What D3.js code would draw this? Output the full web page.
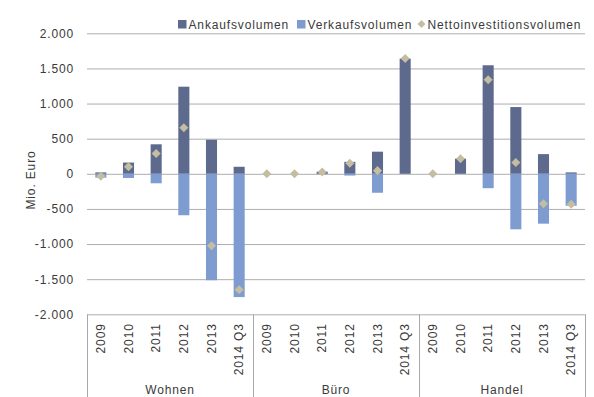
<!DOCTYPE html>
<html>
<head>
<meta charset="utf-8">
<script src="https://cdn.jsdelivr.net/npm/d3@7"></script>
<style>
  html, body { margin: 0; padding: 0; background: #fff; }
  svg { display: block; font-family: "Liberation Sans", Arial, sans-serif; }
  .lbl { fill: #3a3a3a; font-size: 12px; letter-spacing: 0.85px; }
</style>
</head>
<body>
<svg id="chart" width="594" height="397"></svg>
<script>
// Transaction volumes per segment and year (Mio. Euro)
const groups = ["Wohnen", "Büro", "Handel"];
const periods = ["2009", "2010", "2011", "2012", "2013", "2014 Q3"];

const ankauf = [
  20, 160, 420, 1240, 485, 100,     // Wohnen
  0, 0, 30, 170, 315, 1640,         // Büro
  0, 215, 1545, 950, 280, 20        // Handel
];
const verkauf = [
  -55, -60, -135, -590, -1515, -1755,
  0, 0, -5, -25, -270, 0,
  0, 0, -205, -790, -710, -455
];
const netto = [
  -35, 100, 290, 655, -1025, -1650,
  0, 0, 25, 150, 45, 1640,
  0, 215, 1340, 160, -425, -435
];

const yTicks = [-2000, -1500, -1000, -500, 0, 500, 1000, 1500, 2000];
const seriesNames = ["Ankaufsvolumen", "Verkaufsvolumen", "Nettoinvestitionsvolumen"];
const colors = { ankauf: "#5d6a8e", verkauf: "#7f9cd0", netto: "#c5bd9f" };

const svg = d3.select("#chart");
const plot = { left: 87, right: 585, top: 33.3, bottom: 314.3 };

const keys = [];
groups.forEach(g => periods.forEach(p => keys.push(g + "|" + p)));

const x = d3.scaleBand()
  .domain(keys)
  .range([plot.left, plot.right])
  .paddingInner(0.6)
  .paddingOuter(0.3);

const y = d3.scaleLinear()
  .domain([-2000, 2000])
  .range([plot.bottom, plot.top]);

const de = d3.formatLocale({ decimal: ",", thousands: ".", grouping: [3], currency: ["", " €"], minus: "-" });
const fmt = de.format(",.0f");

// Horizontal gridlines
svg.append("g")
  .attr("transform", `translate(${plot.left},0)`)
  .call(d3.axisLeft(y).tickValues(yTicks).tickSize(-(plot.right - plot.left)).tickFormat(""))
  .call(g => g.select(".domain").remove())
  .call(g => g.selectAll("line").attr("stroke", "#adadad").attr("stroke-width", 1));

// Y axis labels
svg.append("g")
  .attr("transform", `translate(${plot.left},0)`)
  .call(d3.axisLeft(y).tickValues(yTicks).tickSize(0).tickPadding(13).tickFormat(fmt))
  .call(g => g.select(".domain").remove())
  .call(g => g.selectAll("text").attr("class", "lbl").attr("font-family", null).attr("font-size", null).attr("fill", null));

svg.append("text")
  .attr("class", "lbl")
  .attr("transform", "translate(35,180) rotate(-90)")
  .attr("text-anchor", "middle")
  .text("Mio. Euro");

// Bars
const rows = keys.map((k, i) => ({ key: k, a: ankauf[i], v: verkauf[i], n: netto[i] }));

svg.append("g").selectAll("rect.a")
  .data(rows).join("rect")
  .attr("x", d => x(d.key))
  .attr("width", x.bandwidth())
  .attr("y", d => y(Math.max(0, d.a)))
  .attr("height", d => Math.abs(y(d.a) - y(0)))
  .attr("fill", colors.ankauf);

svg.append("g").selectAll("rect.v")
  .data(rows).join("rect")
  .attr("x", d => x(d.key))
  .attr("width", x.bandwidth())
  .attr("y", d => y(0))
  .attr("height", d => Math.abs(y(d.v) - y(0)))
  .attr("fill", colors.verkauf);

// Net investment markers
const diamond = d3.symbol().type(d3.symbolDiamond2).size(52);
svg.append("g").selectAll("path")
  .data(rows).join("path")
  .attr("d", diamond)
  .attr("transform", d => `translate(${x(d.key) + x.bandwidth() / 2},${y(d.n)})`)
  .attr("fill", colors.netto);

// Category axis: box with group dividers
const axisG = svg.append("g").attr("stroke", "#a8a8a8").attr("stroke-width", 1);
const groupEdges = groups.map((g, i) => x(g + "|" + periods[0]) - x.step() * x.paddingOuter());
groupEdges.push(plot.right);
groupEdges.forEach(ex => {
  axisG.append("line").attr("x1", Math.round(ex) + 0.5).attr("x2", Math.round(ex) + 0.5)
    .attr("y1", plot.bottom).attr("y2", 397);
});

const xAxis = svg.append("g");
rows.forEach(d => {
  const period = d.key.split("|")[1];
  xAxis.append("text")
    .attr("class", "lbl")
    .attr("text-anchor", "end")
    .attr("dominant-baseline", "central")
    .attr("transform", `translate(${x(d.key) + x.bandwidth() / 2},${plot.bottom + 9}) rotate(-90)`)
    .text(period);
});

groups.forEach((g, i) => {
  svg.append("text")
    .attr("class", "lbl")
    .attr("x", (groupEdges[i] + groupEdges[i + 1]) / 2)
    .attr("y", 393.5)
    .attr("text-anchor", "middle")
    .text(g);
});

// Legend
const legend = svg.append("g");
const legendItems = [
  { name: seriesNames[0], type: "rect", color: colors.ankauf, x: 178 },
  { name: seriesNames[1], type: "rect", color: colors.verkauf, x: 297 },
  { name: seriesNames[2], type: "diamond", color: colors.netto, x: 417 }
];
legendItems.forEach(it => {
  if (it.type === "rect") {
    legend.append("rect").attr("x", it.x).attr("y", 20).attr("width", 8.5).attr("height", 8.5).attr("fill", it.color);
  } else {
    legend.append("path").attr("d", d3.symbol().type(d3.symbolDiamond2).size(40))
      .attr("transform", `translate(${it.x + 4.5},24)`).attr("fill", it.color);
  }
  legend.append("text").attr("class", "lbl").attr("x", it.x + 10.5).attr("y", 28.5).text(it.name);
});
</script>
</body>
</html>
